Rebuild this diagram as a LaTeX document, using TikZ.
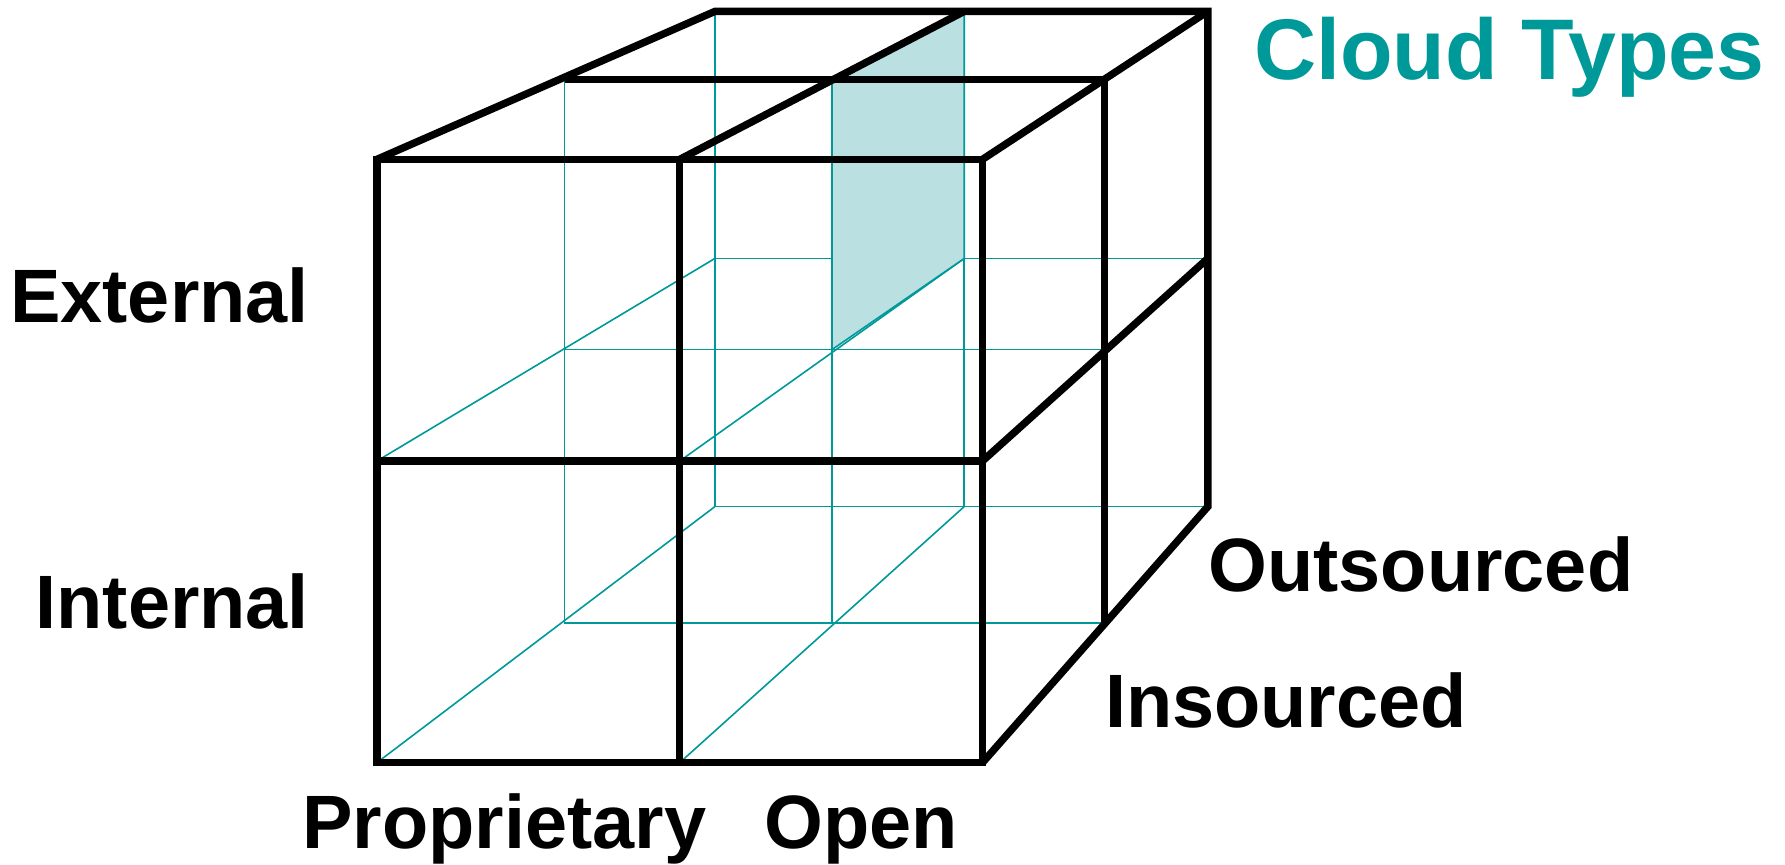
\documentclass[tikz,border=0pt]{standalone}
\usepackage{fontspec}
\setmainfont{Liberation Sans}
\usepackage{tikz}
\usetikzlibrary{positioning}
\definecolor{Teal}{RGB}{0,153,153}
\definecolor{Shade}{RGB}{186,224,226}
\tikzstyle{Edge} = [
line width=1.85pt,
black]
\tikzstyle{Hidden} = [line width=0.4pt, Teal]
\tikzstyle{Label} = [inner sep=0pt, font=\fontsize{18.9}{22}\selectfont\bfseries]
\tikzstyle{Title} = [inner sep=0pt, text=Teal, font=\fontsize{21.5}{26}\selectfont\bfseries]

\begin{document}
\begin{tikzpicture}[x=0.01cm, y=-0.01cm]
    \useasboundingbox (0,0) rectangle (1568,759);

    % inner grid
    \draw[Hidden] (496,70) -- (496,547) -- (970,547);
    \draw[Hidden] (731,70) -- (731,547);
    \draw[Hidden] (496,307) -- (970,307);
    \draw[Hidden] (628,10) -- (628,445) -- (1061,445);
    \draw[Hidden] (847,10) -- (847,445);
    \draw[Hidden] (628,227) -- (1061,227);
    \draw[Hidden] (331,405) -- (628,227);
    \draw[Hidden] (597,405) -- (847,227);
    \draw[Hidden] (331,670) -- (628,445);
    \draw[Hidden] (597,670) -- (847,445);
    \filldraw[Hidden, fill=Shade] (731,70) -- (847,10) -- (847,227) -- (731,307) -- cycle;

    % cube
    \draw[Edge] (331,140) rectangle (863,670);
    \draw[Edge] (597,140) -- (597,670);
    \draw[Edge] (331,405) -- (863,405);
    \draw[Edge] (331,140) -- (628,10) -- (1061,10) -- (1061,445) -- (863,670);
    \draw[Edge] (597,140) -- (847,10);
    \draw[Edge] (863,140) -- (1061,10);
    \draw[Edge] (496,70) -- (970,70) -- (970,547);
    \draw[Edge] (863,405) -- (1061,227);

    \node[Title, anchor=base west] (0) at (1101,70) {Cloud Types};
    \node[Label, anchor=base east] (1) at (272,283) {External};
    \node[Label, anchor=base east] (2) at (272,552) {Internal};
    \node[Label, anchor=base west] (3) at (265,745) {Proprietary};
    \node[Label, base right=0.5cm of 3] (4) {Open};
    \node[Label, anchor=base west] (5) at (1061,520) {Outsourced};
    \node[Label, anchor=base west] (6) at (970,639) {Insourced};
\end{tikzpicture}
\end{document}
